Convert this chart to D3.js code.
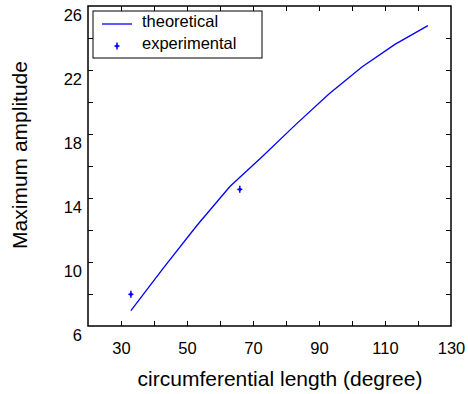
<!DOCTYPE html>
<html>
<head>
<meta charset="utf-8">
<script src="https://cdn.jsdelivr.net/npm/d3@7"></script>
<style>
  body { margin: 0; background: #fff; }
  svg text { font-family: Arial, "Liberation Sans", sans-serif; fill: #000; }
  .axis path { display: none; }
  .axis line { stroke: #000; stroke-width: 1; }
</style>
</head>
<body>
<svg id="chart" width="468" height="394"></svg>
<script>
// theoretical curve
const theoLength = [33, 43, 53, 63, 73, 83, 93, 103, 113, 123];
const theoAmp = [6.96, 9.67, 12.28, 14.72, 16.62, 18.6, 20.5, 22.19, 23.6, 24.77];

// experimental points
const expLength = [33, 66];
const expAmp = [7.98, 14.54];

const xLabelTicks = [30, 50, 70, 90, 110, 130];
const xMinorTicks = [30, 40, 50, 60, 70, 80, 90, 100, 110, 120];
const yLabelTicks = [6, 10, 14, 18, 22, 26];
const yMinorTicks = [8, 10, 12, 14, 16, 18, 20, 22, 24];

const svg = d3.select('#chart');
const plotL = 88, plotR = 451, plotT = 6, plotB = 326;
const blue = '#0000ff';

const x = d3.scaleLinear().domain([20, 130]).range([plotL, plotR]);
const y = d3.scaleLinear().domain([6, 26]).range([plotB, plotT]);

// inward ticks on all four sides
svg.append('g').attr('class', 'axis')
    .attr('transform', `translate(0,${plotB})`)
    .call(d3.axisBottom(x).tickValues(xMinorTicks).tickSize(-5).tickFormat(''));
svg.append('g').attr('class', 'axis')
    .attr('transform', `translate(0,${plotT})`)
    .call(d3.axisTop(x).tickValues(xMinorTicks).tickSize(-5).tickFormat(''));
svg.append('g').attr('class', 'axis')
    .attr('transform', `translate(${plotL},0)`)
    .call(d3.axisLeft(y).tickValues(yMinorTicks).tickSize(-5).tickFormat(''));
svg.append('g').attr('class', 'axis')
    .attr('transform', `translate(${plotR},0)`)
    .call(d3.axisRight(y).tickValues(yMinorTicks).tickSize(-5).tickFormat(''));

// tick labels
const xl = svg.append('g').attr('class', 'axis')
    .attr('transform', `translate(0,${plotB})`)
    .call(d3.axisBottom(x).tickValues(xLabelTicks).tickSize(0).tickPadding(16).tickFormat(d3.format('d')));
xl.selectAll('line').remove();
xl.selectAll('text').style('font-size', '16.5px').attr('font-family', null);

const yl = svg.append('g').attr('class', 'axis')
    .attr('transform', `translate(${plotL},0)`)
    .call(d3.axisLeft(y).tickValues(yLabelTicks).tickSize(0).tickPadding(6).tickFormat(d3.format('d')));
yl.selectAll('line').remove();
yl.selectAll('text').style('font-size', '16.5px').attr('font-family', null)
    .attr('dy', '0.85em');

// frame
svg.append('rect')
    .attr('x', plotL).attr('y', plotT)
    .attr('width', plotR - plotL).attr('height', plotB - plotT)
    .attr('fill', 'none').attr('stroke', '#000').attr('stroke-width', 1.5);

// theoretical line
const line = d3.line().x(d => x(d[0])).y(d => y(d[1]));
svg.append('path')
    .datum(d3.zip(theoLength, theoAmp))
    .attr('d', line)
    .attr('fill', 'none').attr('stroke', blue).attr('stroke-width', 1.3);

// experimental markers
function marker(g) {
    g.append('line').attr('x1', 0).attr('x2', 0).attr('y1', -3.5).attr('y2', 3.5)
        .attr('stroke', blue).attr('stroke-width', 1.5);
    g.append('line').attr('x1', -2.5).attr('x2', 2.5).attr('y1', 0).attr('y2', 0)
        .attr('stroke', blue).attr('stroke-width', 1.5);
    g.append('circle').attr('r', 1.6).attr('fill', blue);
}
d3.zip(expLength, expAmp).forEach(d => {
    svg.append('g').attr('transform', `translate(${x(d[0])},${y(d[1])})`).call(marker);
});

// axis titles
svg.append('text')
    .attr('x', 280).attr('y', 386)
    .attr('text-anchor', 'middle')
    .style('font-size', '21px')
    .text('circumferential length (degree)');

svg.append('text')
    .attr('transform', 'translate(27,155) rotate(-90)')
    .attr('text-anchor', 'middle')
    .style('font-size', '21px')
    .text('Maximum amplitude');

// legend
const legend = svg.append('g');
legend.append('rect')
    .attr('x', 93).attr('y', 11).attr('width', 169).attr('height', 47)
    .attr('fill', '#fff').attr('stroke', '#000').attr('stroke-width', 1);
legend.append('line')
    .attr('x1', 102).attr('x2', 132).attr('y1', 24).attr('y2', 24)
    .attr('stroke', blue).attr('stroke-width', 1.3);
legend.append('text').attr('x', 142).attr('y', 27).style('font-size', '16.5px').text('theoretical');
legend.append('g').attr('transform', 'translate(117,46)').call(marker);
legend.append('text').attr('x', 142).attr('y', 48.5).style('font-size', '16.5px').text('experimental');
</script>
</body>
</html>
